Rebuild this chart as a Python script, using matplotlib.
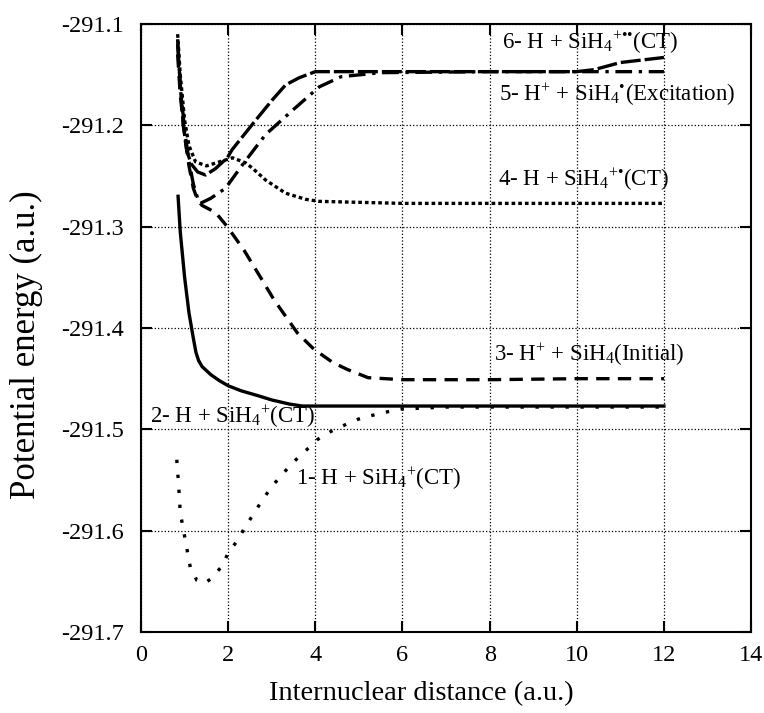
import matplotlib
matplotlib.use("Agg")
from matplotlib import pyplot as plt

plt.rcParams["font.family"] = ["Liberation Serif", "DejaVu Serif"]
plt.rcParams["mathtext.fontset"] = "custom"
plt.rcParams["mathtext.rm"] = "Liberation Serif"
plt.rcParams["mathtext.it"] = "Liberation Serif:italic"
plt.rcParams["mathtext.bf"] = "Liberation Serif:bold"

# curve 1: H + SiH4+ (CT), sparse dots
x1 = [0.82, 0.86, 0.90, 1.01, 1.13, 1.28, 1.45, 1.59, 1.86, 2.01, 2.21, 2.38, 2.59, 2.78, 3.01,
      3.25, 3.48, 3.78, 4.05, 4.36, 4.71, 4.98, 5.5, 5.97, 7, 8, 9, 10, 11, 12]
y1 = [-291.53, -291.553, -291.582, -291.608, -291.636, -291.649, -291.652, -291.648, -291.635,
      -291.621, -291.61, -291.597, -291.583, -291.57, -291.556, -291.544, -291.533, -291.521,
      -291.51, -291.502, -291.495, -291.49, -291.484, -291.48, -291.478, -291.478, -291.478,
      -291.478, -291.478, -291.478]

# curve 2: H + SiH4+ (CT), solid
x2 = [0.85, 0.9, 1.0, 1.1, 1.2, 1.26, 1.32, 1.4, 1.5, 1.6, 1.8, 2.0, 2.3, 2.7, 3.0, 3.4, 3.7,
      6, 9, 12]
y2 = [-291.27, -291.305, -291.35, -291.385, -291.41, -291.424, -291.432, -291.438, -291.442,
      -291.446, -291.452, -291.457, -291.462, -291.467, -291.471, -291.475, -291.477, -291.477,
      -291.477, -291.477]

# curve 3: H+ + SiH4 (Initial), long dashes
x3 = [0.84, 0.9, 1.0, 1.1, 1.2, 1.3, 1.4, 1.71, 1.98, 2.36, 2.7, 3.05, 3.59, 3.97, 4.4, 4.74,
      5.21, 6, 8, 10, 12]
y3 = [-291.13, -291.17, -291.21, -291.24, -291.262, -291.274, -291.279, -291.286, -291.30,
      -291.323, -291.347, -291.372, -291.405, -291.421, -291.434, -291.441, -291.449, -291.451,
      -291.451, -291.45, -291.45]

# curve 4: H + SiH4+* (CT), dotted
x4 = [0.84, 0.9, 1.0, 1.1, 1.25, 1.5, 1.8, 2.1, 2.4, 2.55, 2.86, 3.32, 3.78, 4.08, 6, 9, 12]
y4 = [-291.11, -291.15, -291.195, -291.22, -291.236, -291.24, -291.236, -291.232, -291.237,
      -291.242, -291.254, -291.267, -291.273, -291.275, -291.277, -291.277, -291.277]

# curve 5: H+ + SiH4* (Excitation), dash-dot
x5 = [0.84, 0.9, 1.0, 1.1, 1.2, 1.3, 1.36, 1.6, 1.94, 2.36, 2.86, 3.48, 4.09, 4.59, 5.5, 8, 12]
y5 = [-291.115, -291.16, -291.205, -291.235, -291.258, -291.272, -291.277, -291.272, -291.262,
      -291.237, -291.209, -291.185, -291.162, -291.152, -291.148, -291.147, -291.147]

# curve 6: H + SiH4+** (CT), thick dashes
x6 = [0.84, 0.9, 0.97, 1.05, 1.15, 1.3, 1.48, 1.7, 1.98, 2.09, 2.63, 3.01, 3.32, 3.63, 4.0,
      6, 8, 10, 10.4, 11.0, 12]
y6 = [-291.12, -291.16, -291.2, -291.225, -291.238, -291.246, -291.249, -291.243, -291.232,
      -291.224, -291.195, -291.175, -291.16, -291.153, -291.147, -291.147, -291.147, -291.147,
      -291.145, -291.138, -291.133]

labels = [
    r"1- H + SiH$_4$$^{+}$(CT)",
    r"2- H + SiH$_4$$^{+}$(CT)",
    r"3- H$^{+}$ + SiH$_4$(Initial)",
    "4- H + SiH$_4$$^{+•}$(CT)",
    "5- H$^{+}$ + SiH$_4$$^{•}$(Excitation)",
    "6- H + SiH$_4$$^{+••}$(CT)",
]
label_pos = [(3.55, -291.549), (0.2, -291.488), (8.1, -291.426),
             (8.2, -291.254), (8.22, -291.17), (8.28, -291.119)]

fig = plt.figure(figsize=(7.64, 7.13), dpi=100)
ax = fig.add_axes([0.1846, 0.1136, 0.7985, 0.8527])

lw = 2.4
ax.plot(x1, y1, color="black", lw=lw, linestyle=(0, (1, 3.5)))
ax.plot(x2, y2, color="black", lw=lw, linestyle="-")
ax.plot(x3, y3, color="black", lw=lw, linestyle=(0, (4, 2.5)))
ax.plot(x4, y4, color="black", lw=lw, linestyle=(0, (1.1, 0.9)))
ax.plot(x5, y5, color="black", lw=lw, linestyle=(0, (5, 2, 1, 2)))
ax.plot(x6, y6, color="black", lw=lw, linestyle=(0, (6, 1.2)))

for txt, (tx, ty) in zip(labels, label_pos):
    ax.text(tx, ty, txt, fontsize=16.5, va="center", ha="left")

ax.set_xlim(0, 14)
ax.set_ylim(-291.7, -291.1)
ax.set_xticks(range(0, 15, 2))
ax.set_yticks([-291.7, -291.6, -291.5, -291.4, -291.3, -291.2, -291.1])
ax.set_yticklabels(["-291.7", "-291.6", "-291.5", "-291.4", "-291.3", "-291.2", "-291.1"])
ax.grid(True, color="black", linestyle=":", linewidth=0.9)
ax.tick_params(direction="in", length=8, width=1.5, top=True, right=True, labelsize=17.5)
ax.tick_params(axis="y", pad=12)
ax.tick_params(axis="x", pad=9)
for s in ax.spines.values():
    s.set_linewidth(1.5)

ax.set_xlabel("Internuclear distance (a.u.)", fontsize=20.5)
ax.set_ylabel("Potential energy (a.u.)", fontsize=25)
ax.xaxis.set_label_coords(0.459, -0.081)
ax.yaxis.set_label_coords(-0.161, 0.472)

fig.savefig("out.png", dpi=100)
